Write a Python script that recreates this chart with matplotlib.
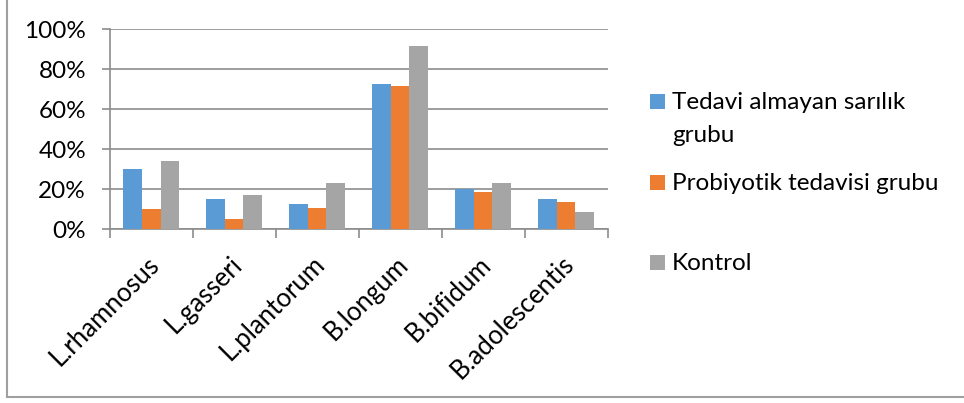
import matplotlib
matplotlib.use("Agg")
import matplotlib.pyplot as plt
from matplotlib.patches import Rectangle
from matplotlib.lines import Line2D
from matplotlib.transforms import ScaledTranslation
import numpy as np

plt.rcParams['font.family'] = ['Lato', 'DejaVu Sans']

categories = ["L.rhamnosus", "L.gasseri", "L.plantorum", "B.longum", "B.bifidum", "B.adolescentis"]
series_names = ["Tedavi almayan sarılık\ngrubu", "Probiyotik tedavisi grubu", "Kontrol"]
tedavi_almayan = [30, 15, 12.5, 72.5, 20, 15]
probiyotik = [10, 5.3, 10.8, 71.5, 18.8, 13.6]
kontrol = [34.3, 17.1, 23.1, 91.7, 23.1, 8.7]
yticks = [0, 20, 40, 60, 80, 100]
ytick_labels = ["0%", "20%", "40%", "60%", "80%", "100%"]
colors = ["#5B9BD5", "#ED7D31", "#A5A5A5"]

FS = 17.5
W, H = 964, 403
fig = plt.figure(figsize=(W / 100, H / 100), dpi=100)
ax = fig.add_axes([109.7 / W, 1 - 229.3 / H, (607.5 - 109.7) / W, (229.3 - 29) / H])

x = np.arange(len(categories))
bw = 0.225
for i, (vals, c) in enumerate(zip([tedavi_almayan, probiyotik, kontrol], colors)):
    ax.bar(x + (i - 1) * bw, vals, width=bw, color=c, zorder=3)

ax.set_xlim(-0.5, len(categories) - 0.5)
ax.set_ylim(0, 100)
ax.set_yticks(yticks)
ax.set_yticklabels(ytick_labels)
ax.yaxis.grid(True, color="#8c8c8c", linewidth=1.2, zorder=0)
for s in ["top", "right"]:
    ax.spines[s].set_visible(False)
ax.spines["left"].set_color("#8c8c8c")
ax.spines["bottom"].set_color("#8c8c8c")
ax.spines["left"].set_linewidth(1.2)
ax.spines["bottom"].set_linewidth(1.2)
ax.tick_params(axis="y", length=6, color="#8c8c8c", width=1.2, pad=11, labelsize=FS)
ax.set_xticks(np.arange(len(categories) + 1) - 0.5, minor=False)
ax.set_xticklabels([])
ax.tick_params(axis="x", which="major", length=6.5, color="#8c8c8c", width=1.2)
ax.set_xticks(x, minor=True)
ax.set_xticklabels(categories, minor=True, rotation=45, ha="right", va="top",
                   rotation_mode="anchor", fontsize=18.5)
ax.tick_params(axis="x", which="minor", length=0, pad=16)
offset = ScaledTranslation(-5 / 100, 0, fig.dpi_scale_trans)
for lbl in ax.get_xticklabels(minor=True):
    lbl.set_transform(lbl.get_transform() + offset)

# legend (manual layout): baseline of each text line, square bottom on first baseline
leg_baselines = [[109, 142], [190], [270]]
for bases, name, c in zip(leg_baselines, series_names, colors):
    fig.patches.append(Rectangle((650 / W, 1 - bases[0] / H), 15 / W, 15 / H,
                                 transform=fig.transFigure, facecolor=c, edgecolor="none"))
    for yb, line in zip(bases, name.split("\n")):
        fig.text(672 / W, 1 - yb / H, line, fontsize=FS, va="baseline", ha="left")

# outer frame (left and bottom edges)
fig.add_artist(Line2D([7 / W, 7 / W], [1 - 396.5 / H, 1.0], transform=fig.transFigure,
                      color="#a0a0a0", linewidth=1.5))
fig.add_artist(Line2D([7 / W, 1.0], [1 - 396.5 / H, 1 - 396.5 / H], transform=fig.transFigure,
                      color="#a0a0a0", linewidth=1.5))

fig.savefig("out.png", dpi=100)
